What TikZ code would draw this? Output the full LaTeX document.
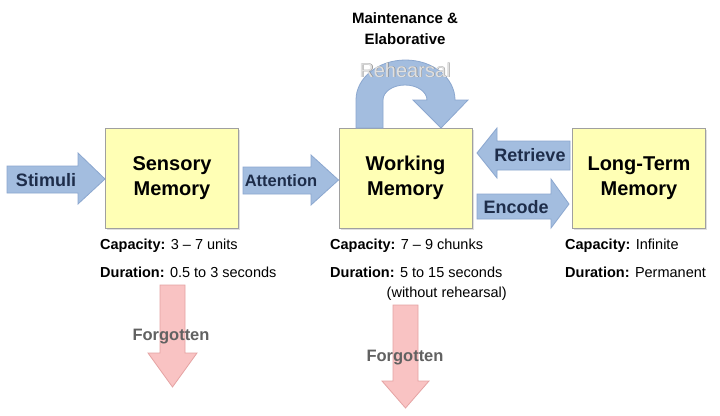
\documentclass[tikz,border=0pt]{standalone}
\usepackage{fontspec}
\setmainfont{Liberation Sans}
\usetikzlibrary{shadows}
\definecolor{boxfill}{HTML}{FFFFB5}
\definecolor{boxline}{HTML}{A0A0A0}
\definecolor{arrfill}{HTML}{A3BDDF}
\definecolor{arrline}{HTML}{8BA7CF}
\definecolor{arrtext}{HTML}{1E2D4A}
\definecolor{pinkfill}{HTML}{F9C3C3}
\definecolor{pinkline}{HTML}{E5A3A3}
\begin{document}
\begin{tikzpicture}[x=1pt,y=-1pt,
  membox/.style={draw=boxline, line width=1pt, fill=boxfill, minimum width=133pt,
    minimum height=100pt, align=center, inner sep=0pt,
    font=\fontsize{20}{25}\selectfont\bfseries,
    drop shadow={opacity=0.25, shadow xshift=1.5pt, shadow yshift=-1.5pt}},
  bluearrow/.style={fill=arrfill, draw=arrline, line width=0.8pt, line join=miter},
  pinkarrow/.style={fill=pinkfill, draw=pinkline, line width=0.8pt, line join=miter},
  arrlabel/.style={font=\fontsize{18}{18}\selectfont\bfseries, text=arrtext, inner sep=0pt},
  info/.style={anchor=west, inner sep=0pt, font=\fontsize{14.5}{14.5}\selectfont},
  forg/.style={font=\fontsize{16.5}{16.5}\selectfont\bfseries, text=black!62, inner sep=0pt},
  toptext/.style={font=\fontsize{15}{15}\selectfont\bfseries, inner sep=0pt}]
\useasboundingbox (0,0) rectangle (720,415);
\fill[white] (0,0) rectangle (720,415);

% boxes
\node[membox] (sm) at (172,178.5) {Sensory\\Memory};
\node[membox] (wm) at (405.5,178) {Working\\Memory};
\node[membox] (ltm) at (639,178) {Long-Term\\Memory};

% Stimuli arrow
\draw[bluearrow] (7,166) -- (78,166) -- (78,153) -- (sm.west |- 0,179) -- (78,204) -- (78,193) -- (7,193) -- cycle;
\node[arrlabel] (stim) at (46,180) {Stimuli};

% Attention arrow
\draw[bluearrow] (243,167) -- (311,167) -- (311,155) -- (wm.west |- 0,180) -- (311,205) -- (311,194) -- (243,194) -- cycle;
\node[arrlabel, font=\fontsize{16.5}{16.5}\selectfont\bfseries] (att) at (281,181) {Attention};

% Retrieve arrow
\draw[bluearrow] (570,141) -- (497,141) -- (497,128) -- (477,153) -- (497,178) -- (497,170) -- (570,170) -- cycle;
\node[arrlabel] (ret) at (530,155) {Retrieve};

% Encode arrow
\draw[bluearrow] (477,194) -- (551,194) -- (551,179) -- (569,204) -- (551,228) -- (551,219) -- (477,219) -- cycle;
\node[arrlabel] (enc) at (516,207) {Encode};

% Rehearsal loop arrow
\draw[bluearrow] (356,128) -- (356,100) arc[start angle=180, end angle=360, x radius=49.5, y radius=40]
  -- (468,100) -- (441,128) -- (413,100) -- (427,100)
  arc[start angle=0, end angle=-180, x radius=22, y radius=15] -- (383,128) -- cycle;
\node[font=\fontsize{20}{20}\selectfont, text=black!45, inner sep=0pt] at (405.6,70.6) {Rehearsal};
\node[font=\fontsize{20}{20}\selectfont, text=black!12, inner sep=0pt] (reh) at (405,70) {Rehearsal};
\node[toptext] (mt1) at (405,18) {Maintenance \&};
\node[toptext] (mt2) at (405,39) {Elaborative};

% info labels
\node[info] (sc) at (100,246) {\textbf{Capacity:} 3 – 7 units};
\node[info] (sd) at (100,272) {\textbf{Duration:} 0.5 to 3 seconds};
\node[info] (wc) at (330,246) {\textbf{Capacity:} 7 – 9 chunks};
\node[info] (wd) at (330,272) {\textbf{Duration:} 5 to 15 seconds};
\node[info, anchor=east] (wr) at (507,294) {(without rehearsal)};
\node[info] (lc) at (565,246) {\textbf{Capacity:} Infinite};
\node[info] (ld) at (565,272) {\textbf{Duration:} Permanent};

% Forgotten arrows
\draw[pinkarrow] (160,285) -- (185,285) -- (185,353) -- (197,353) -- (172.5,387) -- (148,353) -- (160,353) -- cycle;
\node[forg] (f1) at (171,337) {Forgotten};
\draw[pinkarrow] (393,305) -- (418,305) -- (418,381) -- (429,381) -- (405.5,408) -- (382,381) -- (393,381) -- cycle;
\node[forg] (f2) at (405,358) {Forgotten};
\end{tikzpicture}
\end{document}
